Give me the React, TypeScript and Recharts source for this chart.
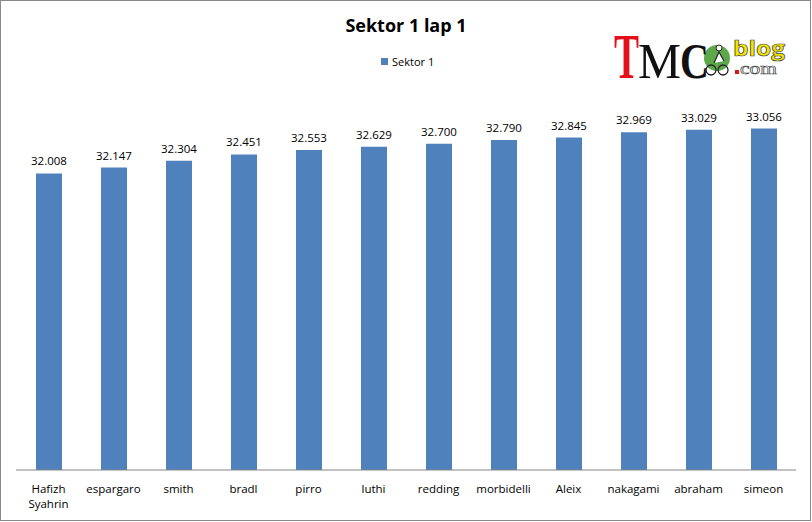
import { BarChart, Bar, XAxis, YAxis, LabelList } from "recharts"

const riders = [
  "Hafizh Syahrin", "espargaro", "smith", "bradl", "pirro", "luthi",
  "redding", "morbidelli", "Aleix", "nakagami", "abraham", "simeon",
]
const sektor1 = [
  32.008, 32.147, 32.304, 32.451, 32.553, 32.629,
  32.700, 32.790, 32.845, 32.969, 33.029, 33.056,
]

const data = riders.map((name, i) => ({ name, sektor1: sektor1[i] }))

const FONT = "'Open Sans', 'Liberation Sans', sans-serif"
const SERIF = "'Liberation Serif', serif"
const BLUE = "#4f81bd"

// names with a space go on two lines, like Excel wraps them
function RiderTick(props: any) {
  const { x, y, payload } = props
  const lines = String(payload.value).split(" ")
  return (
    <text x={x} y={y + 4} textAnchor="middle" fontSize={11.5} fill="#000" fontFamily={FONT}>
      {lines.map((l, i) => (
        <tspan key={i} x={x} dy={i === 0 ? 11 : 15}>{l}</tspan>
      ))}
    </text>
  )
}

// rough redraw of the TMCblog watermark
function Logo() {
  return (
    <svg width={200} height={60} style={{ position: "absolute", left: 600, top: 25, overflow: "visible" }}>
      <text x={14} y={53} fontFamily={SERIF} fontSize={64} fontWeight={700} fill="#e3101c"
        textLength={25} lengthAdjust="spacingAndGlyphs">T</text>
      <text x={38} y={53} fontFamily={SERIF} fontSize={50} fill="#111"
        textLength={43} lengthAdjust="spacingAndGlyphs">M</text>
      <circle cx={117} cy={33} r={13} fill="#5ea84c" />
      <text x={80} y={53} fontFamily={SERIF} fontSize={50} fontWeight={700} fill="#111"
        textLength={29} lengthAdjust="spacingAndGlyphs">C</text>
      <path d="M111 40 a5 5 0 1 0 0.1 0 M123 40 a5 5 0 1 0 0.1 0" fill="none" stroke="#222" strokeWidth={1.3} />
      <path d="M114 38 L119 27 L124 36" fill="#fff" stroke="#222" strokeWidth={1.2} />
      <circle cx={119} cy={23} r={3} fill="#fff" stroke="#222" strokeWidth={1} />
      <text x={133} y={31} fontFamily={FONT} fontSize={22} fontWeight={700} fill="#f2e600"
        stroke="#444" strokeWidth={0.7} textLength={52} lengthAdjust="spacingAndGlyphs">blog</text>
      <rect x={135} y={45} width={4} height={4} fill="#e3101c" />
      <text x={140} y={49} fontFamily={SERIF} fontSize={16} fill="#fff"
        stroke="#444" strokeWidth={0.6} textLength={37} lengthAdjust="spacingAndGlyphs">com</text>
    </svg>
  )
}

export default function App() {
  return (
    <div style={{ position: "absolute", left: 0, top: 0, width: 812, height: 522, background: "#fff", fontFamily: FONT }}>
      <div style={{ position: "absolute", left: 0, top: 0, width: 809, height: 519, border: "1px solid #888" }} />
      <div style={{ position: "absolute", left: 0, top: 13, width: 812, textAlign: "center", fontSize: 18, fontWeight: 700, color: "#000" }}>
        Sektor 1 lap 1
      </div>
      <div style={{ position: "absolute", left: 381, top: 54, display: "flex", alignItems: "center", fontSize: 11, color: "#000" }}>
        <span style={{ display: "inline-block", width: 7, height: 7, background: BLUE, marginRight: 4 }} />
        Sektor 1
      </div>
      <Logo />
      <div style={{ position: "absolute", left: 0, top: 0 }}>
        <BarChart width={812} height={522} data={data} margin={{ top: 88, right: 16, bottom: 7, left: 16 }}>
          <XAxis
            dataKey="name"
            height={45}
            interval={0}
            tickLine={false}
            axisLine={{ stroke: "#868686" }}
            tick={<RiderTick />}
          />
          <YAxis hide domain={[25.1, 34]} allowDataOverflow />
          <Bar dataKey="sektor1" fill={BLUE} barSize={26} isAnimationActive={false}>
            <LabelList
              dataKey="sektor1"
              position="top"
              offset={8}
              formatter={(v: any) => Number(v).toFixed(3)}
              style={{ fontSize: 11.5, fill: "#000", fontFamily: FONT }}
            />
          </Bar>
        </BarChart>
      </div>
    </div>
  )
}
